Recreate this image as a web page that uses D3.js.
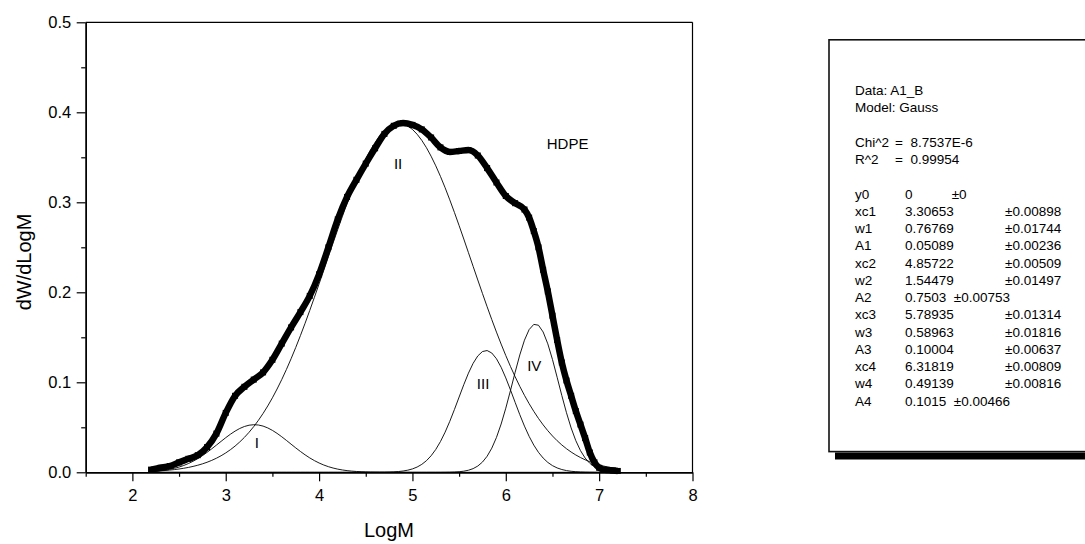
<!DOCTYPE html>
<html>
<head>
<meta charset="utf-8">
<script src="https://cdn.jsdelivr.net/npm/d3@7"></script>
<style>
  html, body { margin: 0; padding: 0; background: #fff; }
  svg { display: block; font-family: "Liberation Sans", Arial, sans-serif; }
</style>
</head>
<body>
<svg id="chart" width="1085" height="544"></svg>
<script>
// Measured molecular weight distribution (HDPE)
const logM = [2.2, 2.3, 2.4, 2.5, 2.6, 2.7, 2.8, 2.9, 3.0, 3.1, 3.2, 3.3, 3.4, 3.5, 3.6, 3.7, 3.8, 3.9,
  4.0, 4.1, 4.2, 4.3, 4.4, 4.5, 4.6, 4.7, 4.8, 4.9, 5.0, 5.1, 5.2, 5.3, 5.4, 5.5, 5.6, 5.7, 5.8, 5.9,
  6.0, 6.1, 6.2, 6.25, 6.3, 6.35, 6.4, 6.45, 6.5, 6.55, 6.6, 6.65, 6.7, 6.75, 6.8, 6.85, 6.9, 6.95,
  7.0, 7.05, 7.1, 7.15, 7.2];
const dWdLogM = [0.003, 0.005, 0.007, 0.011, 0.015, 0.019, 0.028, 0.043, 0.066, 0.085, 0.095, 0.103,
  0.111, 0.125, 0.143, 0.161, 0.178, 0.196, 0.220, 0.250, 0.281, 0.306, 0.325, 0.343, 0.360, 0.376,
  0.385, 0.388, 0.386, 0.381, 0.372, 0.361, 0.356, 0.357, 0.358, 0.352, 0.338, 0.322, 0.307, 0.299,
  0.292, 0.283, 0.268, 0.250, 0.225, 0.201, 0.174, 0.147, 0.122, 0.102, 0.085, 0.068, 0.053, 0.038,
  0.022, 0.011, 0.005, 0.003, 0.0025, 0.002, 0.0015];

// Gauss fit parameters (y = y0 + A/(w*sqrt(pi/2)) * exp(-2((x-xc)/w)^2))
const fitY0 = 0;
const fitXc = [3.30653, 4.85722, 5.78935, 6.31819];
const fitW = [0.76769, 1.54479, 0.58963, 0.49139];
const fitA = [0.05089, 0.7503, 0.10004, 0.1015];
const peakNames = ["I", "II", "III", "IV"];

// Axis ticks
const xMajor = [2, 3, 4, 5, 6, 7, 8];
const xMinor = [1.5, 2.5, 3.5, 4.5, 5.5, 6.5, 7.5];
const yMajor = [0, 0.1, 0.2, 0.3, 0.4, 0.5];
const yMinor = [0.05, 0.15, 0.25, 0.35, 0.45];

// Fit report text
const reportHead = ["Data: A1_B", "Model: Gauss"];
const reportStats = [["Chi^2", "=  8.7537E-6"], ["R^2", "=  0.99954"]];
const reportParams = [
  ["y0", "0", "", "±0"],
  ["xc1", "3.30653", "±0.00898"],
  ["w1", "0.76769", "±0.01744"],
  ["A1", "0.05089", "±0.00236"],
  ["xc2", "4.85722", "±0.00509"],
  ["w2", "1.54479", "±0.01497"],
  ["A2", "0.7503  ±0.00753", ""],
  ["xc3", "5.78935", "±0.01314"],
  ["w3", "0.58963", "±0.01816"],
  ["A3", "0.10004", "±0.00637"],
  ["xc4", "6.31819", "±0.00809"],
  ["w4", "0.49139", "±0.00816"],
  ["A4", "0.1015  ±0.00466", ""]
];

const svg = d3.select("#chart");
const L = 85.7, R = 692.5, T = 22.3, B = 472.3;

const x = d3.scaleLinear().domain([1.5, 8]).range([L, R]);
const y = d3.scaleLinear().domain([0, 0.5]).range([B, T]);

// Frame (top and right)
svg.append("line").attr("x1", L).attr("x2", R).attr("y1", T).attr("y2", T)
  .attr("stroke", "#000").attr("stroke-width", 1.2);
svg.append("line").attr("x1", R).attr("x2", R).attr("y1", T).attr("y2", B)
  .attr("stroke", "#000").attr("stroke-width", 1.2);

function styleAxis(g) {
  g.selectAll("path.domain").attr("stroke", "#000").attr("stroke-width", 1.4);
  g.selectAll(".tick line").attr("stroke", "#000").attr("stroke-width", 1.2);
  g.selectAll(".tick text").attr("fill", "#000").attr("font-size", "16.5px")
    .attr("font-family", "'Liberation Sans', Arial, sans-serif");
}

// Bottom axis: minor then major
svg.append("g").attr("transform", `translate(0,${B})`)
  .call(d3.axisBottom(x).tickValues(xMinor).tickSize(4.5).tickSizeOuter(0).tickFormat(""))
  .call(styleAxis);
svg.append("g").attr("transform", `translate(0,${B})`)
  .call(d3.axisBottom(x).tickValues(xMajor).tickSize(9).tickSizeOuter(0).tickPadding(8)
    .tickFormat(d3.format("d")))
  .call(styleAxis);

// Left axis: minor then major
svg.append("g").attr("transform", `translate(${L},0)`)
  .call(d3.axisLeft(y).tickValues(yMinor).tickSize(4.5).tickSizeOuter(0).tickFormat(""))
  .call(styleAxis);
svg.append("g").attr("transform", `translate(${L},0)`)
  .call(d3.axisLeft(y).tickValues(yMajor).tickSize(9).tickSizeOuter(0).tickPadding(5.5)
    .tickFormat(d3.format(".1f")))
  .call(styleAxis);

// Axis titles
svg.append("text").attr("x", (x(1.5) + x(8)) / 2 - 0).attr("y", 537)
  .attr("text-anchor", "middle").attr("font-size", "20px").text("LogM")
  .attr("x", 389);
svg.append("text").attr("transform", "translate(31,262) rotate(-90)")
  .attr("text-anchor", "middle").attr("font-size", "20px").text("dW/dLogM");

// Gauss components from the fit parameters
const fitX = d3.range(0, 101).map(i => 2.2 + i * 0.05);
const gauss = (k, v) => fitY0 + fitA[k] / (fitW[k] * Math.sqrt(Math.PI / 2)) *
  Math.exp(-2 * Math.pow((v - fitXc[k]) / fitW[k], 2));
const fitLine = d3.line().x(d => x(d[0])).y(d => y(d[1]));
fitXc.forEach((_, k) => {
  svg.append("path")
    .attr("d", fitLine(fitX.map(v => [v, gauss(k, v)])))
    .attr("fill", "none").attr("stroke", "#000").attr("stroke-width", 0.9);
});

// Measured data: thick trace with square markers
const pts = logM.map((v, i) => [v, dWdLogM[i]]);
svg.append("path")
  .attr("d", d3.line().x(d => x(d[0])).y(d => y(d[1])).curve(d3.curveMonotoneX)(pts))
  .attr("fill", "none").attr("stroke", "#000").attr("stroke-width", 6.5)
  .attr("stroke-linejoin", "round");
svg.append("g").selectAll("rect").data(pts).join("rect")
  .attr("x", d => x(d[0]) - 3).attr("y", d => y(d[1]) - 3)
  .attr("width", 6).attr("height", 6).attr("fill", "#000");

// Peak labels
const peakLabelPos = [[3.332, 0.0273], [4.846, 0.3367], [5.757, 0.0922], [6.305, 0.1126]];
peakNames.forEach((name, k) => {
  svg.append("text").attr("x", x(peakLabelPos[k][0])).attr("y", y(peakLabelPos[k][1]))
    .attr("text-anchor", "middle").attr("font-size", "15px").text(name);
});
svg.append("text").attr("x", x(6.439)).attr("y", y(0.3589))
  .attr("font-size", "15px").text("HDPE");

// Fit report box with drop shadow
const box = svg.append("g");
box.append("rect").attr("x", 835).attr("y", 452.5).attr("width", 300).attr("height", 7).attr("fill", "#000");
box.append("rect").attr("x", 829).attr("y", 39.8).attr("width", 300).attr("height", 411.8)
  .attr("fill", "#fff").attr("stroke", "#111").attr("stroke-width", 1.6);

const rowY = i => 95 + i * 17.25;
const c1 = 855, cEq = 895, c2 = 905, c3 = 1005;
const tx = (xx, yy, s) => box.append("text").attr("x", xx).attr("y", yy)
  .attr("font-size", "13.5px").attr("xml:space", "preserve").style("white-space", "pre").text(s);
reportHead.forEach((s, i) => tx(c1, rowY(i), s));
reportStats.forEach((r, i) => { tx(c1, rowY(3 + i), r[0]); tx(cEq, rowY(3 + i), r[1]); });
reportParams.forEach((r, i) => {
  tx(c1, rowY(6 + i), r[0]);
  tx(c2, rowY(6 + i), r[1]);
  if (r[2]) tx(c3, rowY(6 + i), r[2]);
  if (r[3]) tx(951.7, rowY(6 + i), r[3]);
});
</script>
</body>
</html>
